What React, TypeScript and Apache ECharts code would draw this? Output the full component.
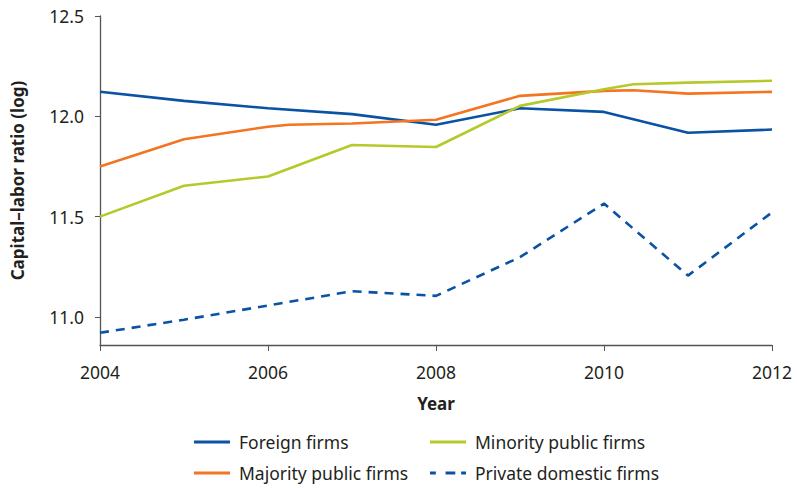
import React, { useEffect, useRef } from "react";
import * as echarts from "echarts";

const foreignFirms: [number, number][] = [
  [2004, 12.122], [2005, 12.077], [2006, 12.04], [2007, 12.011], [2008, 11.958],
  [2009, 12.04], [2010, 12.022], [2011, 11.918], [2012, 11.934],
];
const majorityPublic: [number, number][] = [
  [2004, 11.75], [2005, 11.886], [2006, 11.948], [2006.25, 11.958], [2007, 11.964],
  [2008, 11.983], [2009, 12.102], [2010, 12.127], [2010.35, 12.13], [2011, 12.113], [2012, 12.122],
];
const minorityPublic: [number, number][] = [
  [2004, 11.5], [2005, 11.654], [2006, 11.7], [2007, 11.857], [2008, 11.847],
  [2009, 12.052], [2010, 12.135], [2010.35, 12.16], [2011, 12.168], [2012, 12.177],
];
const privateDomestic: [number, number][] = [
  [2004, 10.921], [2005, 10.986], [2006, 11.057], [2007, 11.128], [2008, 11.105],
  [2009, 11.298], [2010, 11.565], [2011, 11.206], [2012, 11.521],
];
const yTickValues = [11.0, 11.5, 12.0, 12.5];
const xTickValues = [2004, 2006, 2008, 2010, 2012];

const TEXT = "#231f20";
const AXIS = "#555555";
const FONT = "'Noto Sans', 'Open Sans', sans-serif";
const SOLID_ICON = "path://M0,0H36V3H0Z";
const DASH_ICON = "path://M0,0H6V3H0Z M16,0H26V3H16Z M32,0H37V3H32Z";

export default function App() {
  const ref = useRef<HTMLDivElement>(null);
  useEffect(() => {
    if (!ref.current) return;
    const chart = echarts.init(ref.current, undefined, { renderer: "svg" });
    const legendBase = {
      orient: "vertical",
      top: 433,
      padding: 0,
      itemWidth: 36,
      itemHeight: 3,
      itemGap: 13,
      textStyle: { fontSize: 17.5, color: TEXT, fontFamily: FONT, padding: [0, 0, 0, 4] },
    };
    chart.setOption({
      animation: false,
      backgroundColor: "#ffffff",
      textStyle: { fontFamily: FONT, color: TEXT },
      grid: { left: 100, right: 25, top: 16, bottom: 143, containLabel: false },
      xAxis: {
        type: "value",
        min: 2004,
        max: 2012,
        interval: 2,
        name: "Year",
        nameLocation: "middle",
        nameGap: 50,
        nameTextStyle: { fontFamily: FONT, fontSize: 17, fontWeight: "bold", color: TEXT },
        axisLine: { show: true, lineStyle: { color: AXIS, width: 1.3 } },
        axisTick: { show: true, length: 6, lineStyle: { color: AXIS }, customValues: xTickValues },
        axisLabel: {
          color: TEXT, fontSize: 17.5, margin: 18, fontFamily: FONT,
          customValues: xTickValues,
          formatter: (v: number) => String(v),
        },
        splitLine: { show: false },
      },
      yAxis: {
        type: "value",
        min: 10.86,
        max: 12.5,
        name: "Capital\u2013labor ratio (log)",
        nameLocation: "middle",
        nameGap: 74,
        nameTextStyle: { fontFamily: FONT, fontSize: 17, fontWeight: "bold", color: TEXT },
        axisLine: { show: true, lineStyle: { color: AXIS, width: 1.3 } },
        axisTick: { show: true, length: 5, lineStyle: { color: AXIS }, customValues: yTickValues },
        axisLabel: {
          color: TEXT, fontSize: 17.5, margin: 16, fontFamily: FONT,
          customValues: yTickValues,
          formatter: (v: number) => v.toFixed(1),
        },
        splitLine: { show: false },
      },
      legend: [
        {
          ...legendBase,
          left: 194,
          data: [
            { name: "Foreign firms", icon: SOLID_ICON },
            { name: "Majority public firms", icon: SOLID_ICON },
          ],
        },
        {
          ...legendBase,
          left: 430,
          data: [
            { name: "Minority public firms", icon: SOLID_ICON },
            { name: "Private domestic firms", icon: DASH_ICON },
          ],
        },
      ],
      series: [
        {
          name: "Foreign firms", type: "line", data: foreignFirms, symbol: "none",
          lineStyle: { color: "#0a52a3", width: 2.6 }, itemStyle: { color: "#0a52a3" },
        },
        {
          name: "Majority public firms", type: "line", data: majorityPublic, symbol: "none",
          lineStyle: { color: "#f47421", width: 2.6 }, itemStyle: { color: "#f47421" },
        },
        {
          name: "Minority public firms", type: "line", data: minorityPublic, symbol: "none",
          lineStyle: { color: "#b6c92b", width: 2.6 }, itemStyle: { color: "#b6c92b" },
        },
        {
          name: "Private domestic firms", type: "line", data: privateDomestic, symbol: "none",
          lineStyle: { color: "#0a52a3", width: 2.6, type: [9, 7] }, itemStyle: { color: "#0a52a3" },
        },
      ],
    });
    return () => chart.dispose();
  }, []);
  return <div ref={ref} style={{ width: 797, height: 488, position: "fixed", left: 0, top: 0 }} />;
}
